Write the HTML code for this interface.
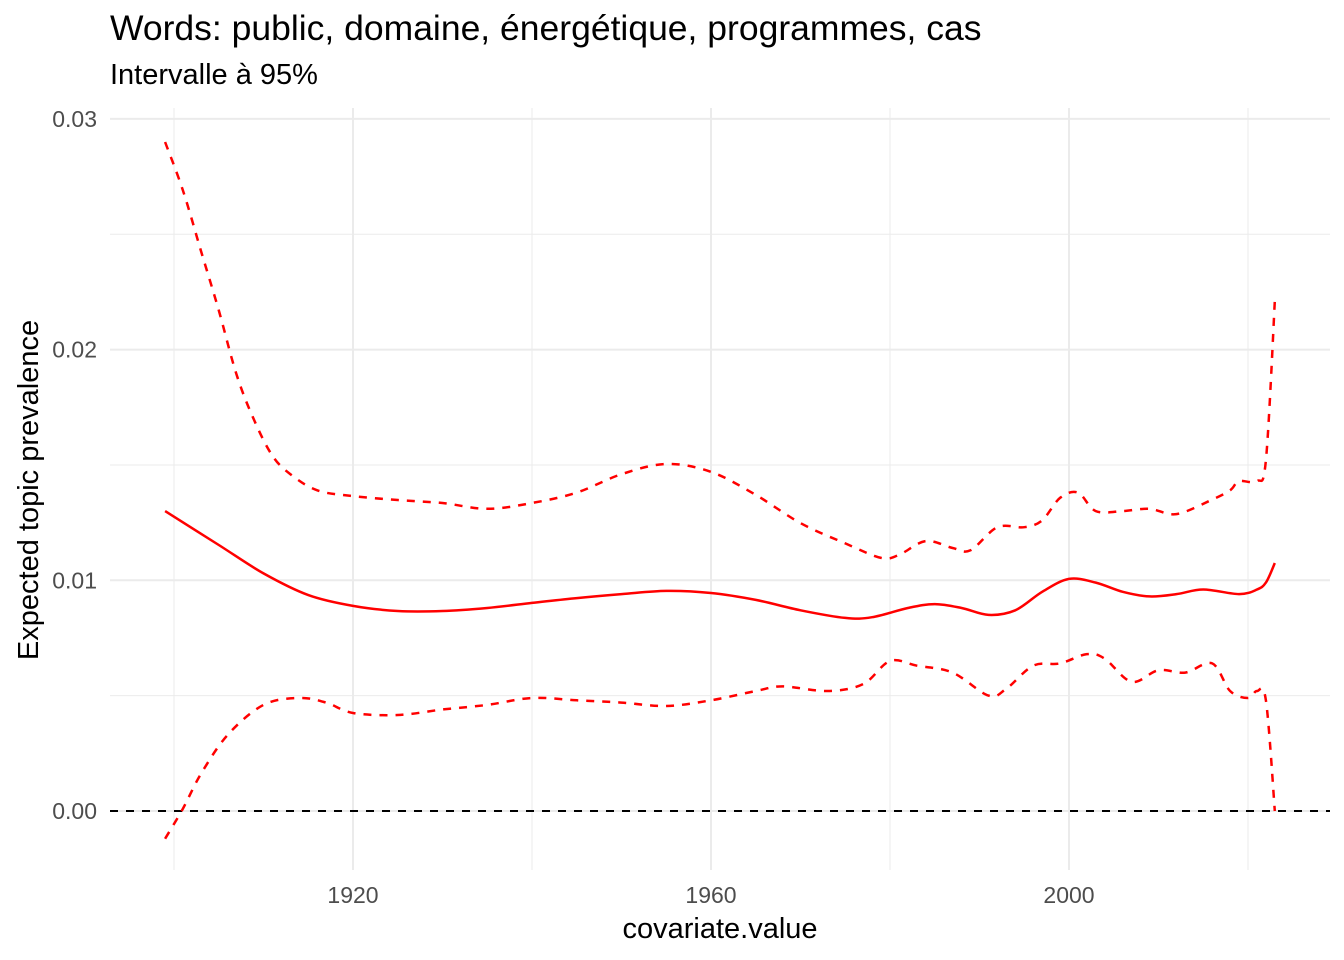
<!DOCTYPE html>
<html><head><meta charset="utf-8">
<style>
html,body{margin:0;padding:0;background:#fff;}
svg{display:block;font-family:"Liberation Sans",sans-serif;}
</style></head>
<body>
<svg id="chart" width="1344" height="960" viewBox="0 0 1344 960">
<text x="110" y="40" font-size="35.5" fill="#000">Words: public, domaine, énergétique, programmes, cas</text>
<text x="110" y="84" font-size="29" fill="#000">Intervalle à 95%</text>
<g id="grid"></g>
<g id="series"></g>
<text x="720" y="938" font-size="29" text-anchor="middle" fill="#000">covariate.value</text>
<text transform="translate(38,490) rotate(-90)" font-size="29" text-anchor="middle" fill="#000">Expected topic prevalence</text>
</svg>
<script>
const xTicks=[1920,1960,2000];
const xMinor=[1900,1940,1980,2020];
const yTicks=[0,0.01,0.02,0.03];
const yTickLabels=["0.00","0.01","0.02","0.03"];
const yMinor=[0.005,0.015,0.025];
const meanYears=[1899,1905,1910,1915,1920,1925,1930,1935,1940,1945,1950,1955,1960,1965,1970,1975,1978,1982,1985,1988,1991,1994,1997,2000,2003,2006,2009,2012,2015,2019,2021,2022,2023];
const meanVals=[0.0130,0.01153,0.0103,0.00936,0.00889,0.00867,0.00867,0.0088,0.00902,0.00923,0.0094,0.00954,0.00945,0.00915,0.0087,0.00837,0.0084,0.0088,0.00897,0.0088,0.0085,0.0087,0.0095,0.01006,0.0099,0.0095,0.0093,0.0094,0.0096,0.0094,0.0096,0.0099,0.01075];
const upperYears=[1899,1901,1903,1905,1907,1909,1911,1913,1916,1920,1925,1930,1935,1940,1945,1950,1955,1960,1965,1970,1975,1979,1981,1984,1987,1989,1992,1995,1997,1999,2001,2003,2006,2009,2012,2016,2018,2019,2021,2022,2023];
const upperVals=[0.0290,0.0269,0.0243,0.0217,0.0189,0.0169,0.0154,0.0146,0.0139,0.01365,0.01348,0.01335,0.0131,0.01335,0.0138,0.0146,0.01504,0.0147,0.0137,0.01248,0.0116,0.01097,0.0111,0.0117,0.0114,0.0113,0.0123,0.0123,0.0126,0.01357,0.0138,0.0130,0.0130,0.0131,0.01287,0.0135,0.0139,0.0143,0.0143,0.0152,0.0221];
const lowerYears=[1899,1901,1903,1906,1910,1914,1917,1920,1925,1930,1935,1940,1945,1950,1955,1960,1965,1968,1973,1977,1980,1983,1987,1991,1993,1996,1999,2002,2004,2007,2010,2013,2016,2018,2020,2021,2022,2023];
const lowerVals=[-0.0012,0.0001,0.0016,0.0033,0.0046,0.0049,0.0047,0.00425,0.00416,0.0044,0.0046,0.0049,0.0048,0.0047,0.00455,0.0048,0.0052,0.0054,0.0052,0.0055,0.0065,0.0063,0.0060,0.0050,0.0053,0.0063,0.0064,0.0068,0.0066,0.0056,0.0061,0.0060,0.0064,0.0052,0.0049,0.0052,0.0048,0.0];

const NS="http://www.w3.org/2000/svg";
const L=110,R=1330,T=108,B=870;
function xs(v){return 353+(v-1920)*(1069-353)/80;}
function ys(v){return 811-v*23070;}
const grid=document.getElementById('grid'),ser=document.getElementById('series');
function mk(tag,attrs,parent){const e=document.createElementNS(NS,tag);for(const k in attrs)e.setAttribute(k,attrs[k]);parent.appendChild(e);return e;}
yMinor.forEach(v=>{const l=mk('line',{x1:L,x2:R,y1:ys(v),y2:ys(v),stroke:'#ebebeb','stroke-width':1},grid);

});
xMinor.forEach(v=>{const l=mk('line',{x1:xs(v),x2:xs(v),y1:T,y2:B,stroke:'#ebebeb','stroke-width':1},grid);

});
yTicks.forEach((v,i)=>{const l=mk('line',{x1:L,x2:R,y1:ys(v),y2:ys(v),stroke:'#ebebeb','stroke-width':2},grid);


const t=mk('text',{x:L-13,y:ys(v)+8,'font-size':23,'text-anchor':'end',fill:'#4d4d4d'},grid);t.textContent=yTickLabels[i];

});
xTicks.forEach(v=>{const l=mk('line',{x1:xs(v),x2:xs(v),y1:T,y2:B,stroke:'#ebebeb','stroke-width':2},grid);


const t=mk('text',{x:xs(v),y:B+33,'font-size':23,'text-anchor':'middle',fill:'#4d4d4d'},grid);t.textContent=v;

});
const zl=mk('line',{x1:L,x2:R,y1:ys(0),y2:ys(0),stroke:'#000','stroke-width':2,'stroke-dasharray':'8,8'},ser);


function path(xsArr,vals,dash,name){
const p=xsArr.map((x,i)=>[xs(x),ys(vals[i])]);
let d='M'+p[0][0].toFixed(1)+','+p[0][1].toFixed(1);
for(let i=0;i<p.length-1;i++){const p0=p[Math.max(0,i-1)],p1=p[i],p2=p[i+1],p3=p[Math.min(p.length-1,i+2)];
const c1=[p1[0]+(p2[0]-p0[0])/6,p1[1]+(p2[1]-p0[1])/6],c2=[p2[0]-(p3[0]-p1[0])/6,p2[1]-(p3[1]-p1[1])/6];
d+='C'+c1[0].toFixed(1)+','+c1[1].toFixed(1)+' '+c2[0].toFixed(1)+','+c2[1].toFixed(1)+' '+p2[0].toFixed(1)+','+p2[1].toFixed(1);}
const e=mk('path',{d:d,fill:'none',stroke:'#ff0000','stroke-width':2.5,'stroke-linejoin':'round'},ser);
if(dash)e.setAttribute('stroke-dasharray','8,8');

}
path(upperYears,upperVals,true,'upper-ci-line');
path(lowerYears,lowerVals,true,'lower-ci-line');
path(meanYears,meanVals,false,'mean-prevalence-line');
</script>
</body></html>
